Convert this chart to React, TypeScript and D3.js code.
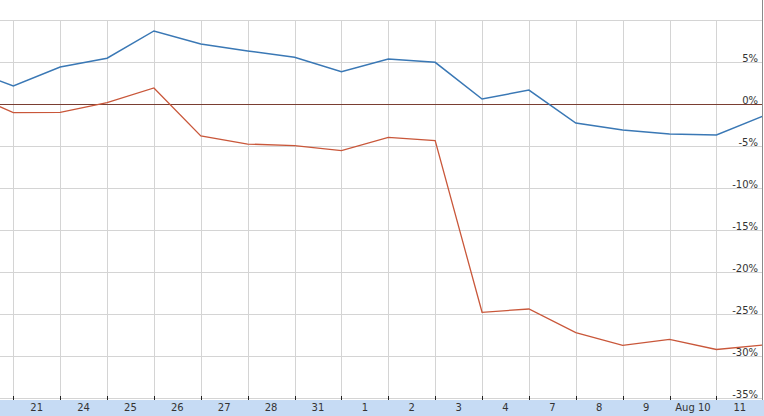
import React from "react";
import * as d3 from "d3";

const dateLabels = ["21", "24", "25", "26", "27", "28", "31", "1", "2", "3", "4", "7", "8", "9", "Aug 10", "11"];
// points sit on the boundaries between days; index -1 .. 16
const pointIndex = [-1, 0, 1, 2, 3, 4, 5, 6, 7, 8, 9, 10, 11, 12, 13, 14, 15, 16];
const blueSeries = [4.3, 2.18, 4.44, 5.48, 8.73, 7.18, 6.35, 5.6, 3.88, 5.39, 5.0, 0.63, 1.7, -2.23, -3.06, -3.54, -3.65, -1.39];
const redSeries = [1.5, -1.0, -0.95, 0.19, 1.94, -3.77, -4.73, -4.93, -5.52, -3.93, -4.33, -24.76, -24.37, -27.19, -28.69, -27.98, -29.19, -28.65];
const yTicks = [10, 5, 0, -5, -10, -15, -20, -25, -30, -35];
const yLabelTicks = [5, 0, -5, -10, -15, -20, -25, -30, -35];

const W = 764;
const H = 416;
const plotTop = 20.5;
const plotBottom = 400;

export default function App() {
  const x = d3.scaleLinear().domain([0, 16]).range([13.3, 763.3]);
  const y = d3.scaleLinear().domain([10, -35]).range([20.3, 398.3]);
  const line = d3
    .line<number>()
    .x((_, i) => x(pointIndex[i]))
    .y((d) => y(d));
  const gridIdx = d3.range(0, 16);
  const font = "'DejaVu Sans', Verdana, sans-serif";

  return (
    <svg
      width={W}
      height={H}
      style={{ position: "absolute", left: 0, top: 0, background: "#fff" }}
    >
      <defs>
        <clipPath id="plotclip">
          <rect x={0} y={0} width={762} height={plotBottom} />
        </clipPath>
      </defs>
      {/* horizontal gridlines */}
      {yTicks.map((t) => (
        <line
          key={"h" + t}
          x1={0}
          x2={762}
          y1={Math.round(y(t)) + 0.5}
          y2={Math.round(y(t)) + 0.5}
          stroke="#d4d4d4"
          strokeWidth={1}
        />
      ))}
      {/* vertical gridlines */}
      {gridIdx.map((i) => (
        <line
          key={"v" + i}
          x1={Math.round(x(i)) + 0.5}
          x2={Math.round(x(i)) + 0.5}
          y1={plotTop}
          y2={plotBottom}
          stroke="#d4d4d4"
          strokeWidth={1}
        />
      ))}
      {/* zero line */}
      <line x1={0} x2={762} y1={Math.round(y(0)) + 0.5} y2={Math.round(y(0)) + 0.5} stroke="#7a3e32" strokeWidth={1} />
      {/* y labels */}
      {yLabelTicks.map((t) => (
        <text
          key={"yl" + t}
          x={758}
          y={y(t) - 0.5}
          textAnchor="end"
          fontFamily={font}
          fontSize={10}
          fill="#333"
        >
          {t + "%"}
        </text>
      ))}
      <g clipPath="url(#plotclip)">
        <path d={line(redSeries) || ""} fill="none" stroke="#c9573a" strokeWidth={1.3} />
        <path d={line(blueSeries) || ""} fill="none" stroke="#3a78b5" strokeWidth={1.5} />
      </g>
      {/* bottom band */}
      <rect x={0} y={plotBottom} width={W} height={H - plotBottom} fill="#c6dbf4" />
      {gridIdx.map((i) => (
        <line
          key={"t" + i}
          x1={Math.round(x(i)) + 0.5}
          x2={Math.round(x(i)) + 0.5}
          y1={396}
          y2={plotBottom}
          stroke="#222"
          strokeWidth={1}
        />
      ))}
      {dateLabels.map((d, i) => (
        <text
          key={"xl" + i}
          x={x(i + 0.5)}
          y={411}
          textAnchor="middle"
          fontFamily={font}
          fontSize={10}
          fill="#333"
        >
          {d}
        </text>
      ))}
      {/* right border */}
      <line x1={762.5} x2={762.5} y1={0} y2={plotBottom} stroke="#8a8a8a" strokeWidth={1} />
    </svg>
  );
}
